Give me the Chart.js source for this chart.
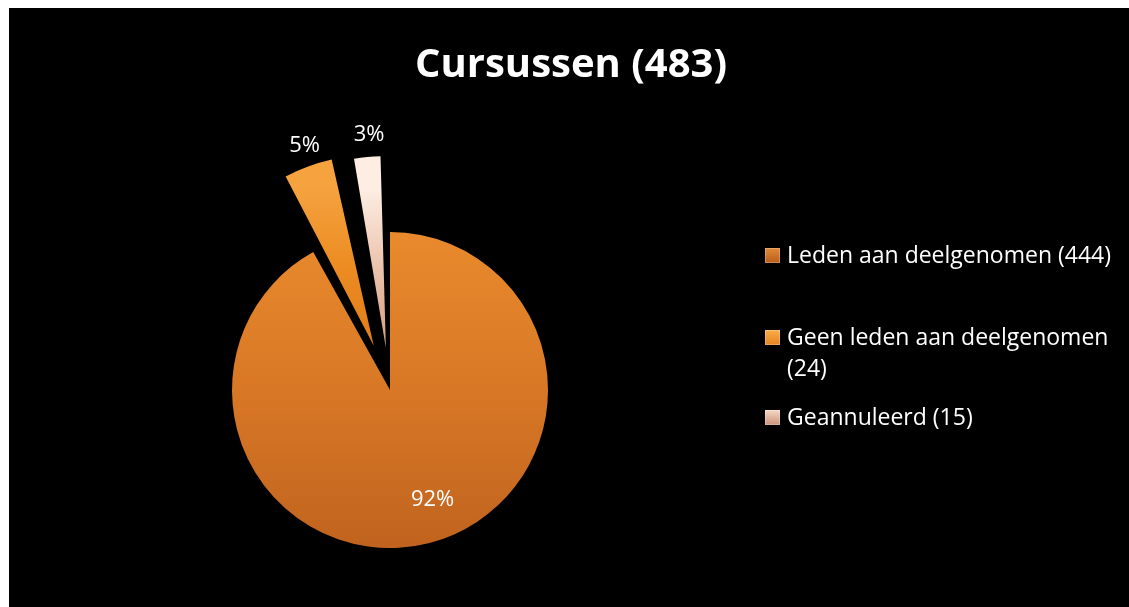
<!DOCTYPE html>
<html>
<head>
<meta charset="utf-8">
<script src="https://cdn.jsdelivr.net/npm/chart.js@4/dist/chart.umd.min.js"></script>
<style>
  html, body { margin: 0; padding: 0; background: #ffffff; }
  #wrap { width: 1129px; height: 607px; position: relative; }
</style>
</head>
<body>
<div id="wrap"><canvas id="c" width="1129" height="607"></canvas></div>
<script>
// ---- data ----
const titleText = 'Cursussen (483)';
const categories = ['Leden aan deelgenomen', 'Geen leden aan deelgenomen', 'Geannuleerd'];
const counts = [444, 24, 15];

// ---- style ----
const explodeDistance = [0, 80, 76]; // wanted pixel shift of each slice
const baseColors = ['#D8792A', '#F0921F', '#E9BFA8'];
const gradStops = [
  ['#E98A2D', '#D87826', '#C0631E'],
  ['#F5A23F', '#EC8C22', '#E07D1A'],
  ['#FDEDE2', '#EBC3AC', '#D49C80']
];
const legendMarkerStops = [
  ['#E08A38', '#B85E1A'],
  ['#F8AC48', '#E58420'],
  ['#F6D8C6', '#C99278']
];
const PIE_R = 158;

const total = counts.reduce((a, b) => a + b, 0);
const percentLabels = counts.map(v => Math.round(v / total * 100) + '%');
const legendLabels = categories.map((c, i) => c + ' (' + counts[i] + ')');

// Chart.js v4 arc shifts by offset/4 * (2 - sin(circumference)); invert that
const sliceOffsets = counts.map((v, i) => {
  const circ = v / total * Math.PI * 2;
  const f = (2 - Math.sin(Math.min(Math.PI, circ))) / 4;
  return explodeDistance[i] / f;
});
function actualShift(off, circ) {
  return off / 4 * (2 - Math.sin(Math.min(Math.PI, circ)));
}

const bgPlugin = {
  id: 'bg',
  beforeDraw(chart) {
    const ctx = chart.ctx;
    ctx.save();
    ctx.fillStyle = '#ffffff';
    ctx.fillRect(0, 0, chart.width, chart.height);
    ctx.fillStyle = '#000000';
    ctx.fillRect(9, 8, chart.width - 9, chart.height - 8);
    ctx.restore();
  }
};

function wrapText(ctx, text, maxW) {
  const words = text.split(' ');
  const lines = [];
  let cur = '';
  words.forEach(w => {
    const t = cur ? cur + ' ' + w : w;
    if (ctx.measureText(t).width > maxW && cur) { lines.push(cur); cur = w; }
    else cur = t;
  });
  if (cur) lines.push(cur);
  return lines;
}

const overlayPlugin = {
  id: 'overlay',
  afterDraw(chart) {
    const ctx = chart.ctx;
    ctx.save();
    // title
    ctx.fillStyle = '#ffffff';
    ctx.font = 'bold 40px "Open Sans"';
    ctx.textAlign = 'center';
    ctx.textBaseline = 'alphabetic';
    ctx.fillText(titleText, 571, 77);

    // percentage labels
    const meta = chart.getDatasetMeta(0);
    ctx.font = '22px "Open Sans"';
    ctx.textBaseline = 'middle';
    meta.data.forEach((arc, i) => {
      const p = arc.getProps(['x', 'y', 'startAngle', 'endAngle', 'outerRadius', 'circumference'], true);
      const mid = (p.startAngle + p.endAngle) / 2;
      const off = arc.options.offset || 0;
      const shift = off > 0 ? actualShift(off, p.circumference) : 0;
      const d = off > 0 ? shift + p.outerRadius + 22 : p.outerRadius * 0.72;
      const x = p.x + Math.cos(mid) * d + (off > 0 ? 4 : 14);
      const y = p.y + Math.sin(mid) * d;
      ctx.fillStyle = '#ffffff';
      ctx.fillText(percentLabels[i], x, y);
    });

    // legend
    ctx.font = '23px "Open Sans"';
    ctx.textAlign = 'left';
    ctx.textBaseline = 'alphabetic';
    const legendBaselines = [263, 345, 425];
    const lineH = 31;
    legendLabels.forEach((lab, i) => {
      const by = legendBaselines[i];
      const mx = 765, my = by - 15, ms = 15;
      const g = ctx.createLinearGradient(0, my, 0, my + ms);
      g.addColorStop(0, legendMarkerStops[i][0]);
      g.addColorStop(1, legendMarkerStops[i][1]);
      ctx.fillStyle = g;
      ctx.fillRect(mx, my, ms, ms);
      ctx.strokeStyle = 'rgba(255,255,255,0.25)';
      ctx.lineWidth = 1;
      ctx.strokeRect(mx + 0.5, my + 0.5, ms - 1, ms - 1);
      ctx.fillStyle = '#ffffff';
      const lines = wrapText(ctx, lab, 335);
      lines.forEach((ln, k) => ctx.fillText(ln, 787, by + k * lineH));
    });
    ctx.restore();
  }
};

function sliceFill(c) {
  const chart = c.chart;
  const area = chart.chartArea;
  const i = c.dataIndex;
  if (!area) return baseColors[i];
  const cy = (area.top + area.bottom) / 2;
  const y0 = cy - PIE_R;
  const y1 = i === 0 ? cy + PIE_R : cy;
  const g = chart.ctx.createLinearGradient(0, y0, 0, y1);
  const s = gradStops[i];
  g.addColorStop(0, s[0]);
  g.addColorStop(0.5, s[1]);
  g.addColorStop(1, s[2]);
  return g;
}

function build() {
  new Chart(document.getElementById('c'), {
    type: 'pie',
    data: {
      labels: categories,
      datasets: [{
        data: counts,
        backgroundColor: sliceFill,
        borderWidth: 0,
        offset: sliceOffsets,
        hoverOffset: 0,
        radius: PIE_R
      }]
    },
    options: {
      responsive: false,
      animation: false,
      events: [],
      rotation: 0,
      layout: { padding: { left: 9, right: 358, top: 190, bottom: 17 } },
      plugins: {
        legend: { display: false },
        title: { display: false },
        tooltip: { enabled: false }
      }
    },
    plugins: [bgPlugin, overlayPlugin]
  });
}

if (document.fonts && document.fonts.load) {
  Promise.all([
    document.fonts.load('bold 40px "Open Sans"'),
    document.fonts.load('22px "Open Sans"')
  ]).then(build, build);
} else {
  build();
}
</script>
</body>
</html>
